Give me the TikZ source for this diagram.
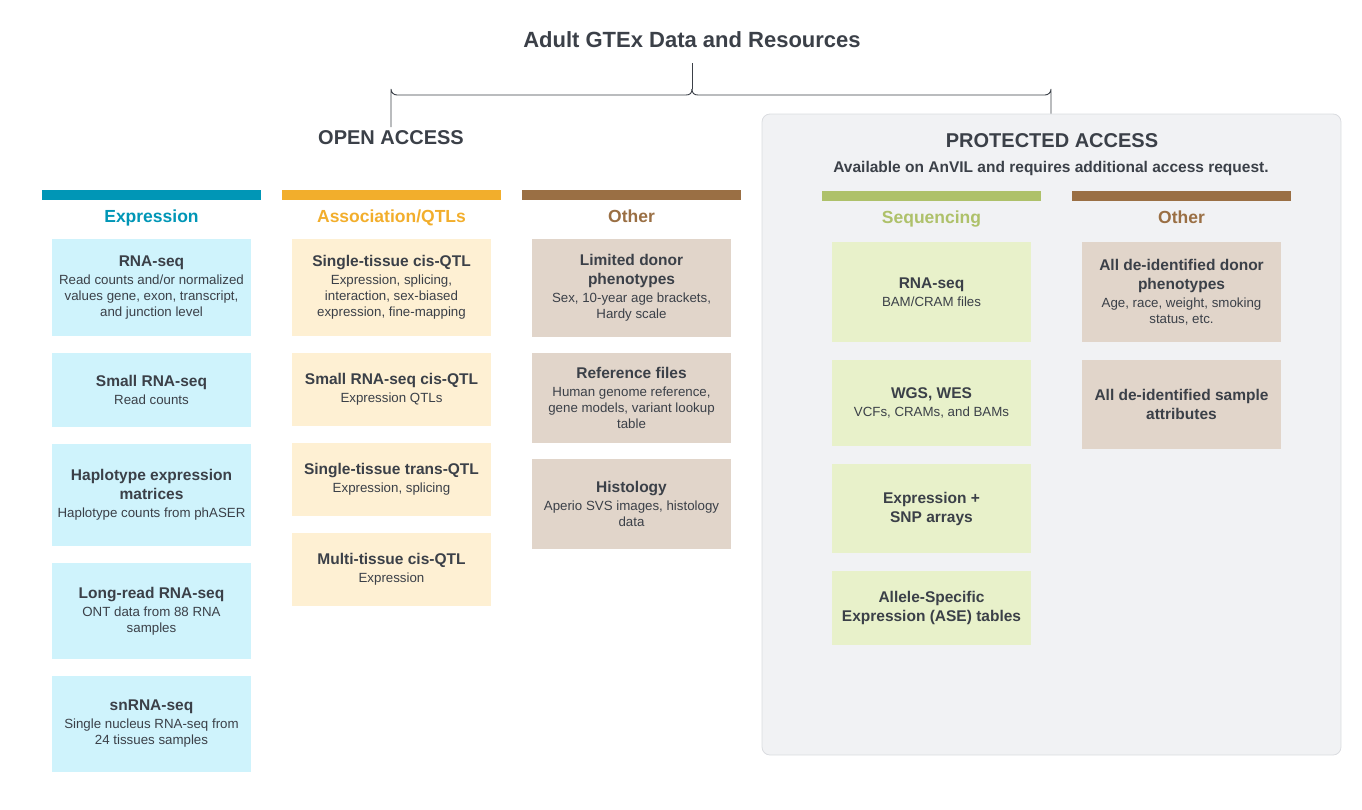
\documentclass[tikz,border=0pt]{standalone}
\usepackage{fontspec}
\setmainfont{Liberation Sans}
\definecolor{txt}{RGB}{59,64,72}
\definecolor{expc}{RGB}{0,150,182}
\definecolor{assc}{RGB}{242,174,44}
\definecolor{othc}{RGB}{154,111,68}
\definecolor{seqc}{RGB}{174,193,106}
\definecolor{expf}{RGB}{207,243,252}
\definecolor{assf}{RGB}{254,240,211}
\definecolor{othf}{RGB}{225,213,202}
\definecolor{seqf}{RGB}{232,241,202}
\definecolor{protf}{RGB}{241,242,244}
\definecolor{protd}{RGB}{218,220,224}
\newcommand\bt[1]{{\fontsize{15.5}{19}\selectfont\bfseries #1}}
\tikzset{
  cbox/.style={minimum width=199pt, minimum height=#1, inner sep=2pt, align=center, text=txt, font=\fontsize{13.3}{16}\selectfont},
  hbar/.style={fill=#1, minimum width=219pt, minimum height=10pt, inner sep=0pt},
  hlab/.style={text=#1, font=\fontsize{17.5}{20}\selectfont\bfseries, inner sep=0pt, anchor=base},
  brk/.style={draw=txt, line width=0.9pt},
}
\begin{document}
\begin{tikzpicture}[x=1pt,y=-1pt]
\useasboundingbox (0,0) rectangle (1362,809);
% protected panel
\node[draw=protd, fill=protf, rounded corners=8pt, line width=0.8pt, minimum width=579pt, minimum height=641pt, inner sep=0pt] (prot) at (1051.5,434.5) {};
% titles
\node[text=txt, font=\fontsize{22}{26}\selectfont\bfseries] (title) at (692,40) {Adult GTEx Data and Resources};
\node[text=txt, font=\fontsize{20}{24}\selectfont\bfseries, anchor=north] (open) at (391,127) {OPEN ACCESS};
\node[text=txt, font=\fontsize{20}{24}\selectfont\bfseries] (protlab) at (1052,141) {PROTECTED ACCESS};
\node[text=txt, font=\fontsize{15.5}{18}\selectfont\bfseries] (avail) at (1051,168) {Available on AnVIL and requires additional access request.};
% bracket
\coordinate (j) at (692,89);
\draw[brk] (title.south |- 0,63) -- (j);
\draw[brk] (j) .. controls (692,93) and (690,95) .. (686,95) -- (397,95) arc[start angle=90, end angle=180, radius=6] -- (open.north);
\draw[brk] (j) .. controls (692,93) and (694,95) .. (698,95) -- (1045,95) arc[start angle=90, end angle=0, radius=6] -- (prot.north -| 1051,0);
% bars and headers
\node[hbar=expc] (b1) at (151.5,195) {};
\node[hbar=assc] (b2) at (391.5,195) {};
\node[hbar=othc] (b3) at (631.5,195) {};
\node[hbar=seqc] (b4) at (931.5,196) {};
\node[hbar=othc] (b5) at (1181.5,196) {};
\node[hlab=expc] (h1) at (151.5,222.3) {Expression};
\node[hlab=assc] (h2) at (391.5,222.3) {Association/QTLs};
\node[hlab=othc] (h3) at (631.5,222.3) {Other};
\node[hlab=seqc] (h4) at (931.5,223.3) {Sequencing};
\node[hlab=othc] (h5) at (1181.5,223.3) {Other};
% expression
\node[cbox=97pt, fill=expf] (e1) at (151.5,287.5) {\bt{RNA-seq}\\[2pt] Read counts and/or normalized\\ values gene, exon, transcript,\\ and junction level};
\node[cbox=74pt, fill=expf] (e2) at (151.5,390) {\bt{Small RNA-seq}\\[2pt] Read counts};
\node[cbox=102pt, fill=expf] (e3) at (151.5,495) {\bt{Haplotype expression}\\[3pt] \bt{matrices}\\[2pt] Haplotype counts from phASER};
\node[cbox=96pt, fill=expf] (e4) at (151.5,611) {\bt{Long-read RNA-seq}\\[2pt] ONT data from 88 RNA\\ samples};
\node[cbox=96pt, fill=expf] (e5) at (151.5,724) {\bt{snRNA-seq}\\[2pt] Single nucleus RNA-seq from\\ 24 tissues samples};
% association
\node[cbox=97pt, fill=assf] (a1) at (391.5,287.5) {\bt{Single-tissue cis-QTL}\\[2pt] Expression, splicing,\\ interaction, sex-biased\\ expression, fine-mapping};
\node[cbox=73pt, fill=assf] (a2) at (391.5,389.5) {\bt{Small RNA-seq cis-QTL}\\[2pt] Expression QTLs};
\node[cbox=73pt, fill=assf] (a3) at (391.5,479.5) {\bt{Single-tissue trans-QTL}\\[2pt] Expression, splicing};
\node[cbox=73pt, fill=assf] (a4) at (391.5,569.5) {\bt{Multi-tissue cis-QTL}\\[2pt] Expression};
% other (open)
\node[cbox=98pt, fill=othf] (o1) at (631.5,288) {\bt{Limited donor}\\[3pt] \bt{phenotypes}\\[2pt] Sex, 10-year age brackets,\\ Hardy scale};
\node[cbox=90pt, fill=othf] (o2) at (631.5,398) {\bt{Reference files}\\[2pt] Human genome reference,\\ gene models, variant lookup\\ table};
\node[cbox=90pt, fill=othf] (o3) at (631.5,504) {\bt{Histology}\\[2pt] Aperio SVS images, histology\\ data};
% sequencing
\node[cbox=100pt, fill=seqf] (s1) at (931.5,292) {\bt{RNA-seq}\\[2pt] BAM/CRAM files};
\node[cbox=86pt, fill=seqf] (s2) at (931.5,403) {\bt{WGS, WES}\\[2pt] VCFs, CRAMs, and BAMs};
\node[cbox=89pt, fill=seqf] (s3) at (931.5,508.5) {\bt{Expression +}\\[3pt] \bt{SNP arrays}};
\node[cbox=74pt, fill=seqf] (s4) at (931.5,608) {\bt{Allele-Specific}\\[3pt] \bt{Expression (ASE) tables}};
% other (protected)
\node[cbox=100pt, fill=othf] (p1) at (1181.5,292) {\bt{All de-identified donor}\\[3pt] \bt{phenotypes}\\[2pt] Age, race, weight, smoking\\ status, etc.};
\node[cbox=89pt, fill=othf] (p2) at (1181.5,404.5) {\bt{All de-identified sample}\\[3pt] \bt{attributes}};
\end{tikzpicture}
\end{document}
